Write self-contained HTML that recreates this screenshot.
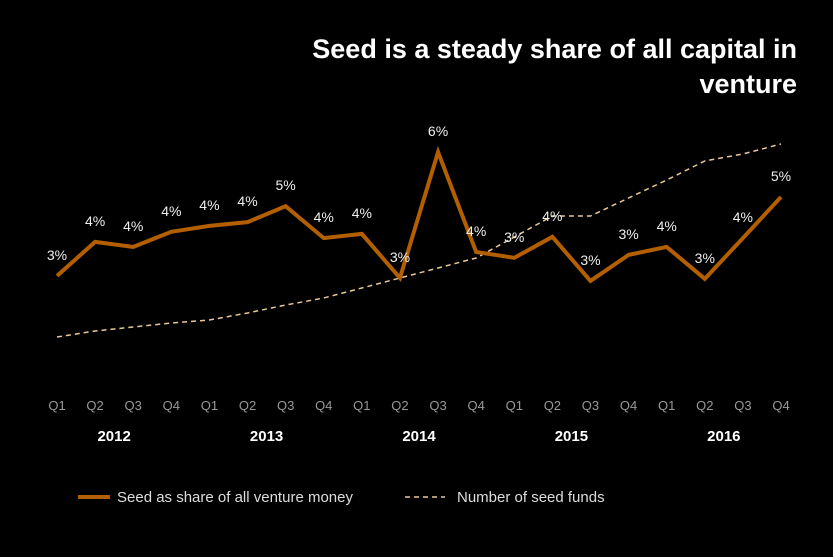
<!DOCTYPE html>
<html><head><meta charset="utf-8"><style>
body{margin:0;background:#000;width:833px;height:557px;overflow:hidden;font-family:"Liberation Sans",sans-serif}
svg{display:block}
</style></head><body>
<svg id="chart" width="833" height="557">
<text x="797" y="58" text-anchor="end" fill="#fff" font-size="27" font-weight="bold">Seed is a steady share of all capital in</text>
<text x="797" y="93" text-anchor="end" fill="#fff" font-size="27" font-weight="bold">venture</text>
<g id="marks"></g>
<g>
<line x1="78" y1="497" x2="110" y2="497" stroke="#b35f00" stroke-width="4"/>
<text x="117" y="502" fill="#ddd" font-size="15">Seed as share of all venture money</text>
<line x1="405" y1="497" x2="445" y2="497" stroke="#e8c89a" stroke-width="1.5" stroke-dasharray="5,4"/>
<text x="457" y="502" fill="#ddd" font-size="15">Number of seed funds</text>
</g>
</svg>
<script>
const quarters=["Q1","Q2","Q3","Q4","Q1","Q2","Q3","Q4","Q1","Q2","Q3","Q4","Q1","Q2","Q3","Q4","Q1","Q2","Q3","Q4"];
const years=["2012","2013","2014","2015","2016"];
const seedShare=[3.05,3.86,3.74,4.10,4.24,4.33,4.71,3.95,4.05,3.0,6.0,3.62,3.48,3.98,2.93,3.55,3.74,2.98,3.95,4.93];
const shareLabels=["3%","4%","4%","4%","4%","4%","5%","4%","4%","3%","6%","4%","3%","4%","3%","3%","4%","3%","4%","5%"];
const seedFunds=[67,73,77,81,84,91,99,106,116,126,136,146,167,188,188,206,224,243,250,260];

const NS="http://www.w3.org/2000/svg";
const g=document.getElementById('marks');
const x=i=>57+i*(781-57)/(quarters.length-1);
const yShare=v=>404-42*v;
const yFunds=v=>404-v;
function mk(tag,attrs){const e=document.createElementNS(NS,tag);for(const k in attrs)e.setAttribute(k,attrs[k]);g.appendChild(e);return e;}

const fp=seedFunds.map((v,i)=>x(i)+","+yFunds(v)).join(" ");
const fl=mk('polyline',{points:fp,fill:"none",stroke:"#e8c89a","stroke-width":1.5,"stroke-dasharray":"5,4"});



const sp=seedShare.map((v,i)=>x(i)+","+yShare(v)).join(" ");
const sl=mk('polyline',{points:sp,fill:"none",stroke:"#b35f00","stroke-width":4,"stroke-linejoin":"miter"});



seedShare.forEach((v,i)=>{
  const t=mk('text',{x:x(i),y:yShare(v)-16,"text-anchor":"middle",fill:"#eee","font-size":14});
  t.textContent=shareLabels[i];
  
  
});
quarters.forEach((q,i)=>{
  const t=mk('text',{x:x(i),y:410,"text-anchor":"middle",fill:"#999","font-size":13});
  t.textContent=q;
  
  
});
years.forEach((yr,j)=>{
  const cx=(x(j*4+1)+x(j*4+2))/2;
  const t=mk('text',{x:cx,y:441,"text-anchor":"middle",fill:"#fff","font-size":15,"font-weight":"bold"});
  t.textContent=yr;
  
  
});
</script>
</body></html>
